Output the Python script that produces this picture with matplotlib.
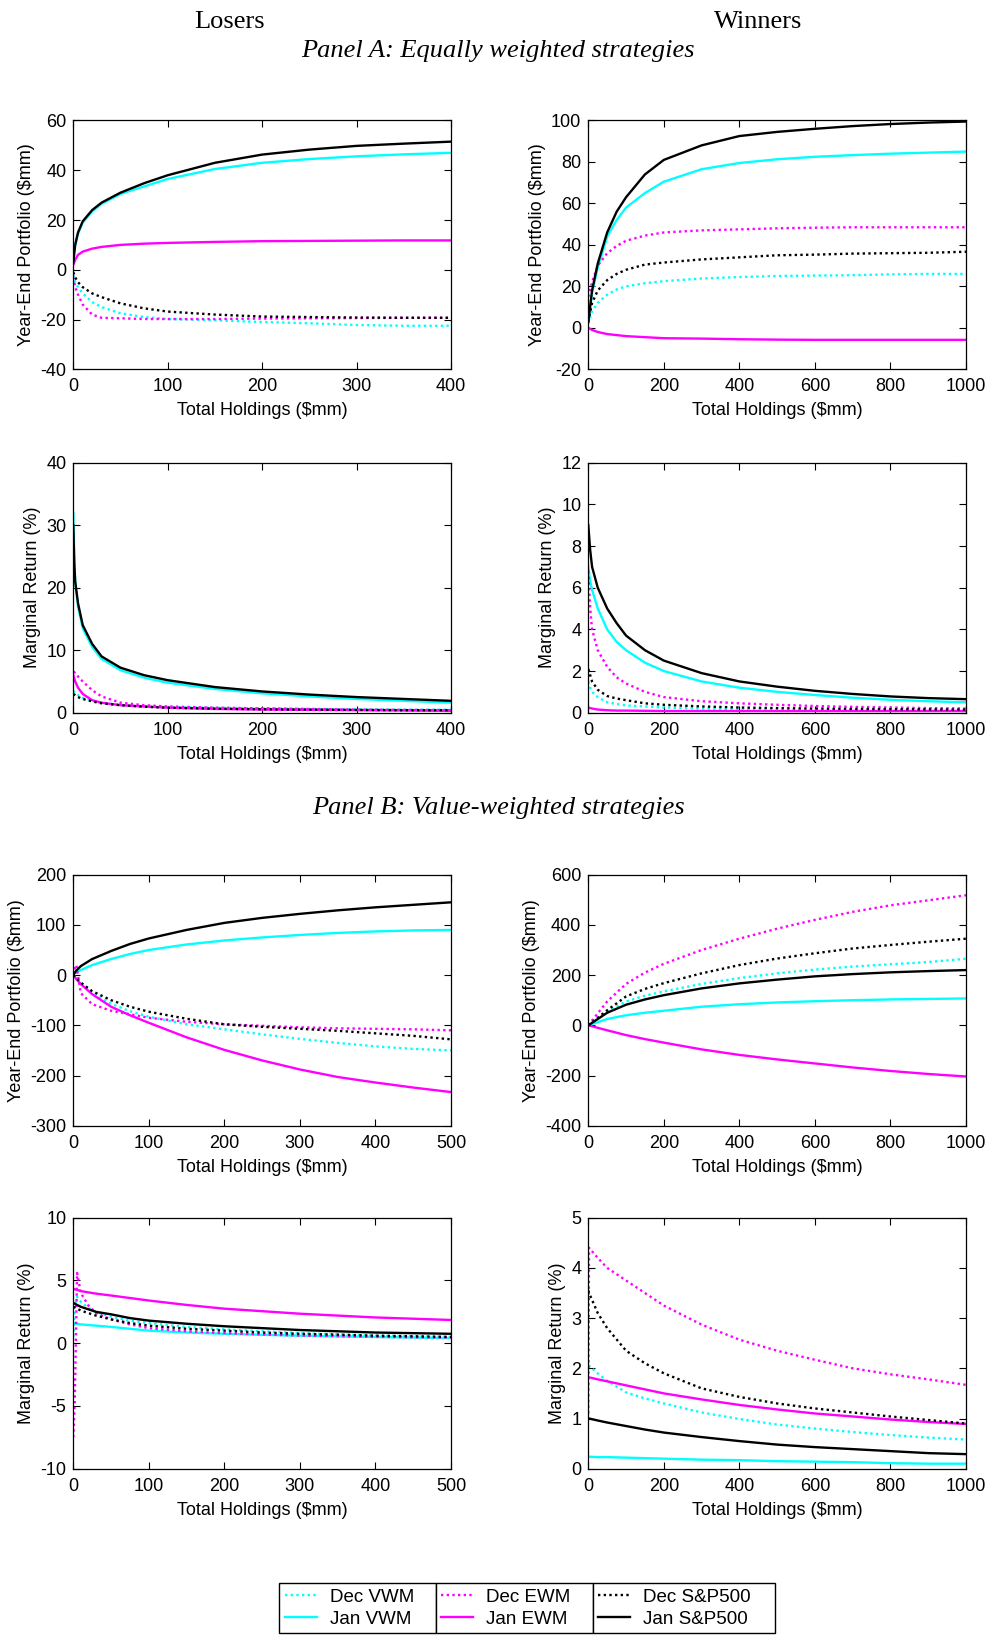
import numpy as np
import matplotlib
matplotlib.use('Agg')
import matplotlib.pyplot as plt
from matplotlib.lines import Line2D

# Panel A, losers: year-end portfolio
a_los_port_x = [0, 2, 5, 10, 20, 30, 50, 75, 100, 150, 200, 250, 300, 350, 400]
a_los_port_dec_vwm = [-2, -5, -7, -9.5, -13, -15, -17.5, -19, -19.8, -20.3, -21, -21.5, -22.2, -22.5, -22.5]
a_los_port_jan_vwm = [6, 10, 14.5, 19, 23.5, 26.5, 30.5, 33.5, 36.5, 40.5, 43, 44.5, 45.6, 46.4, 47]
a_los_port_dec_ewm = [-3, -7, -10, -14, -18, -19.3, -19.5, -19.8, -19.8, -19.8, -19.6, -19.5, -19.4, -19.3, -19.3]
a_los_port_jan_ewm = [2, 4, 6, 7.3, 8.5, 9.2, 10, 10.5, 10.8, 11.2, 11.5, 11.6, 11.7, 11.8, 11.8]
a_los_port_dec_sp = [-1, -3, -5, -7, -9.5, -11, -13.5, -15.5, -16.8, -18, -18.8, -19, -19.2, -19.3, -19.3]
a_los_port_jan_sp = [3, 10, 15, 19.5, 24, 27, 31, 34.8, 38, 43, 46.3, 48.3, 49.8, 50.7, 51.5]

# Panel A, losers: marginal return
a_los_marg_x = [0, 1, 2, 5, 10, 20, 30, 50, 75, 100, 150, 200, 250, 300, 350, 400]
a_los_marg_dec_vwm = [3.5, 3.3, 3.1, 2.8, 2.4, 1.9, 1.6, 1.2, 1.0, 0.9, 0.8, 0.7, 0.6, 0.55, 0.5, 0.5]
a_los_marg_jan_vwm = [32, 25, 21, 17, 13.5, 10.5, 8.6, 6.8, 5.6, 4.8, 3.8, 3.1, 2.6, 2.2, 1.9, 1.6]
a_los_marg_dec_ewm = [6.5, 6.5, 6.3, 5.8, 5.0, 3.6, 2.6, 1.6, 1.2, 1.0, 0.8, 0.7, 0.6, 0.5, 0.45, 0.4]
a_los_marg_jan_ewm = [6, 5.5, 5, 4, 3, 2, 1.6, 1.2, 1.0, 0.8, 0.6, 0.5, 0.45, 0.4, 0.35, 0.3]
a_los_marg_dec_sp = [3, 2.9, 2.8, 2.5, 2.2, 1.8, 1.5, 1.2, 0.95, 0.8, 0.65, 0.55, 0.5, 0.45, 0.4, 0.4]
a_los_marg_jan_sp = [30, 24, 21, 17.5, 14, 11, 9, 7.2, 6, 5.2, 4.1, 3.4, 2.9, 2.5, 2.2, 1.9]

# Panel A, winners: year-end portfolio
a_win_port_x = [0, 10, 25, 50, 75, 100, 150, 200, 300, 400, 500, 600, 700, 800, 900, 1000]
a_win_port_dec_vwm = [2, 8, 12, 16, 18.5, 20, 21.5, 22.5, 23.8, 24.5, 25, 25.2, 25.4, 25.8, 26, 26]
a_win_port_jan_vwm = [3, 17, 29, 44, 52, 58, 65, 70.5, 76.5, 79.5, 81.3, 82.5, 83.3, 84, 84.5, 85]
a_win_port_dec_ewm = [15, 22, 30, 36, 39.5, 42, 44.5, 46, 47, 47.5, 48, 48.3, 48.5, 48.5, 48.5, 48.5]
a_win_port_jan_ewm = [0, -1, -2, -3, -3.5, -4, -4.5, -5, -5.2, -5.5, -5.7, -5.8, -5.8, -5.8, -5.8, -5.8]
a_win_port_dec_sp = [3, 12, 18, 23, 26, 28, 30.5, 31.5, 33, 34, 35, 35.3, 35.8, 36, 36.2, 36.7]
a_win_port_jan_sp = [3, 18, 31, 46, 56, 63, 74, 81, 88, 92.5, 94.5, 96, 97.3, 98.3, 99, 99.5]

# Panel A, winners: marginal return
a_win_marg_x = [0, 5, 10, 25, 50, 75, 100, 150, 200, 300, 400, 500, 600, 700, 800, 900, 1000]
a_win_marg_dec_vwm = [1.5, 1.2, 1, 0.75, 0.5, 0.42, 0.35, 0.3, 0.25, 0.2, 0.18, 0.15, 0.13, 0.12, 0.11, 0.1, 0.1]
a_win_marg_jan_vwm = [7, 6.3, 5.9, 5, 4, 3.4, 3, 2.4, 2, 1.5, 1.2, 1, 0.85, 0.72, 0.62, 0.55, 0.5]
a_win_marg_dec_ewm = [6.8, 5, 4, 3, 2.2, 1.7, 1.4, 1, 0.75, 0.55, 0.45, 0.38, 0.32, 0.28, 0.25, 0.22, 0.2]
a_win_marg_jan_ewm = [0.25, 0.22, 0.2, 0.15, 0.12, 0.1, 0.1, 0.09, 0.08, 0.08, 0.08, 0.08, 0.08, 0.08, 0.08, 0.08, 0.08]
a_win_marg_dec_sp = [2.1, 1.8, 1.5, 1.1, 0.8, 0.68, 0.6, 0.45, 0.38, 0.3, 0.25, 0.22, 0.2, 0.18, 0.17, 0.16, 0.15]
a_win_marg_jan_sp = [9, 7.8, 7, 6, 5, 4.3, 3.7, 3, 2.5, 1.9, 1.5, 1.25, 1.05, 0.9, 0.78, 0.7, 0.65]

# Panel B, losers: year-end portfolio
b_los_port_x = [0, 2, 4, 10, 25, 50, 75, 100, 150, 200, 250, 300, 350, 400, 450, 500]
b_los_port_dec_vwm = [0, -3, -6, -15, -35, -57, -72, -83, -98, -108, -118, -127, -135, -142, -147, -150]
b_los_port_jan_vwm = [0, 3, 6, 10, 20, 32, 42, 50, 61, 69, 75, 80, 84, 87, 89, 90]
b_los_port_dec_ewm = [0, 15, 20, -36, -58, -71, -78, -85, -93, -98, -101, -104, -106, -107, -108, -110]
b_los_port_jan_ewm = [0, -4, -8, -18, -38, -63, -80, -95, -124, -149, -170, -188, -203, -214, -224, -233]
b_los_port_dec_sp = [0, -3, -6, -15, -32, -50, -63, -73, -87, -98, -103, -107, -111, -116, -121, -128]
b_los_port_jan_sp = [0, 5, 9, 18, 32, 48, 62, 73, 90, 104, 114, 122, 129, 135, 140, 145]

# Panel B, losers: marginal return
b_los_marg_x = [0, 2, 5, 10, 20, 30, 50, 75, 100, 150, 200, 250, 300, 350, 400, 450, 500]
b_los_marg_dec_vwm = [0.5, 3.0, 3.7, 3.3, 2.8, 2.5, 2.1, 1.8, 1.6, 1.3, 1.1, 0.95, 0.8, 0.7, 0.6, 0.55, 0.5]
b_los_marg_jan_vwm = [1.6, 1.58, 1.55, 1.5, 1.45, 1.4, 1.3, 1.15, 1.0, 0.85, 0.75, 0.67, 0.6, 0.55, 0.5, 0.45, 0.4]
b_los_marg_dec_ewm = [-7.5, -4.5, 5.6, 4.0, 3.0, 2.4, 1.9, 1.5, 1.2, 0.95, 0.8, 0.7, 0.6, 0.55, 0.5, 0.47, 0.45]
b_los_marg_jan_ewm = [4.3, 4.3, 4.25, 4.15, 4.05, 3.95, 3.8, 3.6, 3.4, 3.05, 2.75, 2.55, 2.35, 2.2, 2.05, 1.95, 1.85]
b_los_marg_dec_sp = [2.9, 2.85, 2.75, 2.6, 2.4, 2.2, 1.9, 1.6, 1.4, 1.15, 1.0, 0.85, 0.75, 0.68, 0.6, 0.55, 0.5]
b_los_marg_jan_sp = [3.2, 3.15, 3.05, 2.9, 2.7, 2.5, 2.3, 2.0, 1.8, 1.55, 1.35, 1.2, 1.05, 0.95, 0.85, 0.8, 0.75]

# Panel B, winners: year-end portfolio
b_win_port_x = [0, 50, 100, 150, 200, 300, 400, 500, 600, 700, 800, 900, 1000]
b_win_port_dec_vwm = [0, 55, 95, 118, 135, 165, 188, 207, 222, 234, 243, 252, 265]
b_win_port_jan_vwm = [0, 25, 40, 50, 58, 74, 84, 91, 96, 100, 103, 105, 107]
b_win_port_dec_ewm = [0, 95, 165, 210, 245, 300, 345, 385, 420, 452, 478, 498, 518]
b_win_port_jan_ewm = [0, -20, -39, -55, -69, -96, -118, -136, -152, -168, -182, -194, -204]
b_win_port_dec_sp = [0, 60, 115, 145, 168, 207, 240, 266, 287, 306, 320, 333, 345]
b_win_port_jan_sp = [0, 50, 82, 103, 120, 147, 167, 182, 195, 204, 211, 216, 220]

# Panel B, winners: marginal return
b_win_marg_x = [0, 2, 25, 50, 100, 150, 200, 300, 400, 500, 600, 700, 800, 900, 1000]
b_win_marg_dec_vwm = [2.05, 2.05, 1.9, 1.75, 1.52, 1.4, 1.3, 1.12, 0.99, 0.88, 0.8, 0.73, 0.67, 0.62, 0.58]
b_win_marg_jan_vwm = [0.24, 0.24, 0.23, 0.23, 0.22, 0.21, 0.2, 0.18, 0.17, 0.15, 0.14, 0.13, 0.11, 0.1, 0.1]
b_win_marg_dec_ewm = [1.1, 4.4, 4.2, 4.0, 3.75, 3.5, 3.25, 2.87, 2.57, 2.35, 2.17, 2.0, 1.88, 1.78, 1.67]
b_win_marg_jan_ewm = [1.82, 1.82, 1.78, 1.74, 1.66, 1.58, 1.5, 1.38, 1.27, 1.18, 1.1, 1.04, 0.98, 0.93, 0.89]
b_win_marg_dec_sp = [3.55, 3.5, 3.1, 2.8, 2.35, 2.1, 1.9, 1.6, 1.43, 1.3, 1.2, 1.12, 1.04, 0.97, 0.9]
b_win_marg_jan_sp = [1.0, 1.0, 0.96, 0.92, 0.85, 0.78, 0.72, 0.63, 0.55, 0.48, 0.43, 0.39, 0.35, 0.31, 0.29]

series_labels = ['Dec VWM', 'Jan VWM', 'Dec EWM', 'Jan EWM', 'Dec S&P500', 'Jan S&P500']
series_colors = ['#00FFFF', '#00FFFF', '#FF00FF', '#FF00FF', 'black', 'black']
dotted = (0, (1, 1.4))
series_styles = [dotted, '-', dotted, '-', dotted, '-']

plt.rcParams['font.family'] = ['Liberation Sans', 'DejaVu Sans']
plt.rcParams['axes.unicode_minus'] = False

W, H = 987, 1635
fig = plt.figure(figsize=(W / 100, H / 100), dpi=100)


def add_panel(box, x, series, xmax, xstep, ylim, ystep, ylabel):
    left, top, right, bottom = box
    ax = fig.add_axes([left / W, 1 - bottom / H, (right - left) / W, (bottom - top) / H])
    for y, c, ls in zip(series, series_colors, series_styles):
        ax.plot(x, y, color=c, linestyle=ls, lw=1.7)
    ax.set_xlim(0, xmax)
    ax.set_ylim(*ylim)
    ax.set_xticks(np.arange(0, xmax + 1, xstep))
    ax.set_yticks(np.arange(ylim[0], ylim[1] + ystep / 2, ystep))
    ax.tick_params(direction='in', top=True, right=True, length=5, width=0.8,
                   labelsize=13, pad=5)
    ax.tick_params(axis='x', pad=6.5)
    ax.set_xlabel('Total Holdings ($mm)', fontsize=13, labelpad=5)
    ax.set_ylabel(ylabel, fontsize=13, labelpad=4)
    for s in ax.spines.values():
        s.set_linewidth(0.9)
    return ax


port_label = 'Year-End Portfolio ($mm)'
marg_label = 'Marginal Return (%)'
L = (73.3, 451.0)
R = (588.3, 966.0)

add_panel((L[0], 120.5, L[1], 369.3), a_los_port_x,
          [a_los_port_dec_vwm, a_los_port_jan_vwm, a_los_port_dec_ewm,
           a_los_port_jan_ewm, a_los_port_dec_sp, a_los_port_jan_sp],
          400, 100, (-40, 60), 20, port_label)
add_panel((R[0], 120.5, R[1], 369.3), a_win_port_x,
          [a_win_port_dec_vwm, a_win_port_jan_vwm, a_win_port_dec_ewm,
           a_win_port_jan_ewm, a_win_port_dec_sp, a_win_port_jan_sp],
          1000, 200, (-20, 100), 20, port_label)
add_panel((L[0], 462.7, L[1], 712.7), a_los_marg_x,
          [a_los_marg_dec_vwm, a_los_marg_jan_vwm, a_los_marg_dec_ewm,
           a_los_marg_jan_ewm, a_los_marg_dec_sp, a_los_marg_jan_sp],
          400, 100, (0, 40), 10, marg_label)
add_panel((R[0], 462.7, R[1], 712.7), a_win_marg_x,
          [a_win_marg_dec_vwm, a_win_marg_jan_vwm, a_win_marg_dec_ewm,
           a_win_marg_jan_ewm, a_win_marg_dec_sp, a_win_marg_jan_sp],
          1000, 200, (0, 12), 2, marg_label)
add_panel((L[0], 874.7, L[1], 1125.7), b_los_port_x,
          [b_los_port_dec_vwm, b_los_port_jan_vwm, b_los_port_dec_ewm,
           b_los_port_jan_ewm, b_los_port_dec_sp, b_los_port_jan_sp],
          500, 100, (-300, 200), 100, port_label)
add_panel((R[0], 874.7, R[1], 1125.7), b_win_port_x,
          [b_win_port_dec_vwm, b_win_port_jan_vwm, b_win_port_dec_ewm,
           b_win_port_jan_ewm, b_win_port_dec_sp, b_win_port_jan_sp],
          1000, 200, (-400, 600), 200, port_label)
add_panel((L[0], 1217.7, L[1], 1468.7), b_los_marg_x,
          [b_los_marg_dec_vwm, b_los_marg_jan_vwm, b_los_marg_dec_ewm,
           b_los_marg_jan_ewm, b_los_marg_dec_sp, b_los_marg_jan_sp],
          500, 100, (-10, 10), 5, marg_label)
add_panel((R[0], 1217.7, R[1], 1468.7), b_win_marg_x,
          [b_win_marg_dec_vwm, b_win_marg_jan_vwm, b_win_marg_dec_ewm,
           b_win_marg_jan_ewm, b_win_marg_dec_sp, b_win_marg_jan_sp],
          1000, 200, (0, 5), 1, marg_label)

# headings
serif = ['Liberation Serif', 'DejaVu Serif']
fig.text(230 / W, 1 - 22 / H, 'Losers', ha='center', va='center', fontsize=19, family=serif)
fig.text(758 / W, 1 - 22 / H, 'Winners', ha='center', va='center', fontsize=19, family=serif)
fig.text(498 / W, 1 - 51 / H, 'Panel A: Equally weighted strategies', ha='center', va='center',
         fontsize=19, family=serif, style='italic')
fig.text(498 / W, 1 - 808 / H, 'Panel B: Value-weighted strategies', ha='center', va='center',
         fontsize=19, family=serif, style='italic')

# three side-by-side legend boxes
boxes = [(279.3, 435.7), (435.7, 592.7), (592.7, 775.0)]
for k, (x0, x1) in enumerate(boxes):
    handles = [Line2D([], [], color=series_colors[i], linestyle=series_styles[i], lw=1.7)
               for i in (2 * k, 2 * k + 1)]
    leg = fig.legend(handles, series_labels[2 * k:2 * k + 2], loc='upper left',
                     bbox_to_anchor=(x0 / W, 0, (x1 - x0) / W, 1 - 1583 / H),
                     bbox_transform=fig.transFigure, mode='expand', borderaxespad=0,
                     fancybox=False, edgecolor='black', framealpha=1, fontsize=13.5,
                     handlelength=1.7, handletextpad=0.7, labelspacing=0.25,
                     borderpad=0.3)
    leg.get_frame().set_linewidth(1.0)

fig.savefig('out.png', dpi=100)
